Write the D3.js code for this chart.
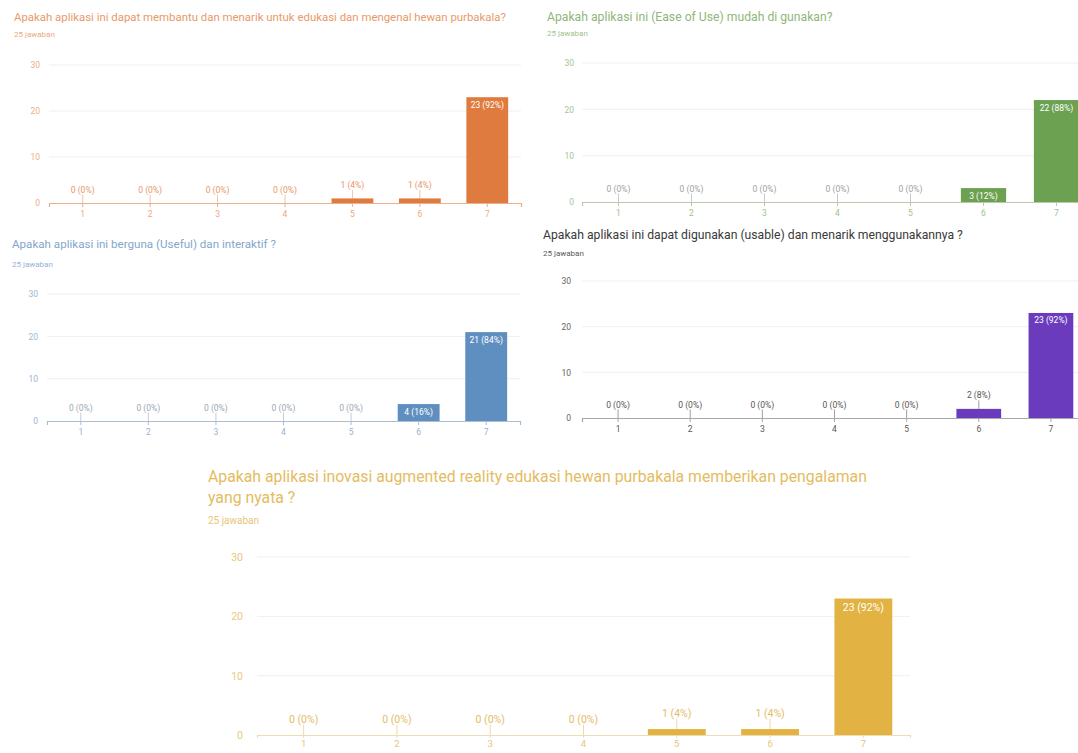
<!DOCTYPE html>
<html>
<head>
<meta charset="utf-8">
<script src="https://cdn.jsdelivr.net/npm/d3@7"></script>
<style>
  html, body { margin: 0; padding: 0; background: #ffffff; }
  svg { display: block; font-family: Roboto, "Noto Sans", Arial, sans-serif; }
</style>
</head>
<body>
<svg id="chart" width="1078" height="753"></svg>
<script>
// ---- data ----
const categories = ["1", "2", "3", "4", "5", "6", "7"];
const yTicks = [0, 10, 20, 30];
const responses = 25;
const subtitleText = "25 jawaban";

const q1Title = ["Apakah aplikasi ini dapat membantu dan menarik untuk edukasi dan mengenal hewan purbakala?"];
const q1Values = [0, 0, 0, 0, 1, 1, 23];

const q2Title = ["Apakah aplikasi ini (Ease of Use) mudah di gunakan?"];
const q2Values = [0, 0, 0, 0, 0, 3, 22];

const q3Title = ["Apakah aplikasi ini berguna (Useful) dan interaktif ?"];
const q3Values = [0, 0, 0, 0, 0, 4, 21];

const q4Title = ["Apakah aplikasi ini dapat digunakan (usable) dan menarik menggunakannya ?"];
const q4Values = [0, 0, 0, 0, 0, 2, 23];

const q5Title = ["Apakah aplikasi inovasi augmented reality edukasi hewan purbakala memberikan pengalaman", "yang nyata ?"];
const q5Values = [0, 0, 0, 0, 1, 1, 23];

// ---- layout / style ----
const panels = [
  { title: q1Title, values: q1Values, bar: "#df7b3e", text: "#e89a68", label: "#e7966a", axis: "#e9b08c",
    x0: 49, x1: 521, y0: 203, y1: 65, tx: 14, ty: 21, sy: 37, tfs: 11.4, sfs: 8, lfs: 8.5, xfs: 8.5, ylx: 40, lg: 0, tp: 4, ts: 4 },
  { title: q2Title, values: q2Values, bar: "#6ba150", text: "#8fb779", label: "#a0a0a0", axis: "#b9c9ae",
    x0: 582, x1: 1093, y0: 202, y1: 63, tx: 547, ty: 21, sy: 36, tfs: 12.2, sfs: 8, lfs: 8.5, xfs: 8.5, ylx: 574, lg: 0, tp: 4, ts: 4 },
  { title: q3Title, values: q3Values, bar: "#5f8fc0", text: "#84a6cb", label: "#9aa7b5", axis: "#a9bdd3",
    x0: 47, x1: 520, y0: 421, y1: 294, tx: 12, ty: 248, sy: 267, tfs: 11.6, sfs: 8, lfs: 8.5, xfs: 8.5, ylx: 38, lg: 0, tp: 4, ts: 4 },
  { title: q4Title, values: q4Values, bar: "#6a3cbd", text: "#3a3a3a", label: "#555555", axis: "#a8a8a8",
    x0: 582, x1: 1087, y0: 418, y1: 281, tx: 543, ty: 239, sy: 256, tfs: 12.2, sfs: 8, lfs: 8.5, xfs: 8.5, ylx: 571, lg: 0, tp: 4, ts: 4 },
  { title: q5Title, values: q5Values, bar: "#e2b342", text: "#e4bc62", label: "#e3bd66", axis: "#eedcb5",
    x0: 257, x1: 910, y0: 735, y1: 557, tx: 208, ty: 482, sy: 524, tfs: 15.8, sfs: 10, lfs: 10.5, xfs: 9.5, ylx: 243, lg: 21, tp: 2, ts: 3 }
];

const svg = d3.select("#chart");

panels.forEach(p => {
  const g = svg.append("g");
  const x = d3.scaleBand().domain(categories).range([p.x0, p.x1]).paddingInner(0.38).paddingOuter(0.19);
  const y = d3.scaleLinear().domain([0, 30]).range([p.y0, p.y1]);

  // title
  p.title.forEach((line, i) => {
    g.append("text").attr("x", p.tx).attr("y", p.ty + i * p.lg)
      .attr("font-size", p.tfs).attr("fill", p.text).text(line);
  });
  g.append("text").attr("x", p.tx).attr("y", p.sy)
    .attr("font-size", p.sfs).attr("fill", p.text).attr("opacity", 0.85).text(subtitleText);

  // gridlines
  g.selectAll(".grid").data(yTicks.filter(t => t > 0)).join("line")
    .attr("x1", p.x0).attr("x2", p.x1)
    .attr("y1", d => y(d)).attr("y2", d => y(d))
    .attr("stroke", "#efefef").attr("stroke-width", 1);

  // y axis labels
  const yAxis = d3.axisLeft(y).tickValues(yTicks).tickSize(0).tickPadding(0);
  const ya = g.append("g").attr("transform", `translate(${p.ylx},0)`).call(yAxis);
  ya.select(".domain").remove();
  ya.selectAll("text").attr("font-size", p.lfs).attr("fill", p.text).attr("opacity", 0.8)
    .attr("font-family", "Roboto, sans-serif");

  // bars
  g.selectAll(".bar").data(p.values).join("rect")
    .attr("x", (d, i) => x(categories[i]))
    .attr("y", d => y(d))
    .attr("width", x.bandwidth())
    .attr("height", d => p.y0 - y(d))
    .attr("fill", p.bar);

  // baseline + x axis
  const xAxis = d3.axisBottom(x).tickSize(p.ts).tickPadding(p.tp);
  const xa = g.append("g").attr("transform", `translate(0,${p.y0})`).call(xAxis);
  xa.select(".domain").attr("stroke", p.axis).attr("stroke-width", 1.2);
  xa.selectAll(".tick line").attr("stroke", p.axis);
  xa.selectAll("text").attr("font-size", p.xfs).attr("fill", p.text).attr("opacity", 0.85)
    .attr("font-family", "Roboto, sans-serif");

  // value labels
  p.values.forEach((v, i) => {
    const cx = x(categories[i]) + x.bandwidth() / 2;
    const txt = `${v} (${Math.round(v / responses * 100)}%)`;
    const h = p.y0 - y(v);
    if (h > p.lfs * 1.5) {
      g.append("text").attr("x", cx).attr("y", y(v) + p.lfs + 2)
        .attr("text-anchor", "middle").attr("font-size", p.lfs)
        .attr("fill", "#ffffff").text(txt);
    } else {
      const ly = y(v) - p.lfs - 2;
      g.append("line").attr("x1", cx).attr("x2", cx)
        .attr("y1", ly + 2).attr("y2", y(v))
        .attr("stroke", p.label).attr("stroke-width", 0.8).attr("opacity", 0.7);
      g.append("text").attr("x", cx).attr("y", ly)
        .attr("text-anchor", "middle").attr("font-size", p.lfs)
        .attr("fill", p.label).text(txt);
    }
  });
});
</script>
</body>
</html>
